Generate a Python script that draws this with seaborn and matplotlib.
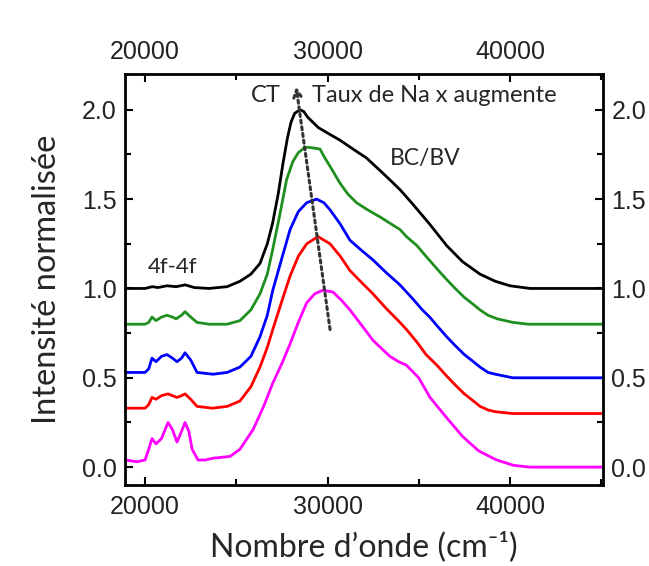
import numpy as np
import pandas as pd
import seaborn as sns
import matplotlib
matplotlib.use('Agg')
import matplotlib.pyplot as plt
from matplotlib.ticker import MultipleLocator, FormatStrFormatter

# donnees (nombre d'onde en cm-1, intensite normalisee + decalage)
black_x = [18900, 20000, 20400, 20700, 21200, 21700, 22200, 22700, 23500, 24500, 25200, 25800,
           26300, 26700, 27000, 27300, 27560, 27800, 28000, 28200, 28490, 28700, 28900, 29200,
           29500, 30000, 30680, 31400, 32140, 32880, 33500, 34000, 34690, 35600, 36530, 37400,
           38360, 39200, 40000, 41100, 45100]
black_y = [1.0, 1.0, 1.01, 1.005, 1.015, 1.01, 1.02, 1.005, 1.0, 1.01, 1.04, 1.08,
           1.14, 1.25, 1.37, 1.53, 1.70, 1.84, 1.93, 1.98, 2.0, 1.99, 1.96, 1.93,
           1.90, 1.87, 1.83, 1.78, 1.73, 1.66, 1.60, 1.55, 1.47, 1.36, 1.24, 1.15,
           1.08, 1.04, 1.015, 1.0, 1.0]

green_x = [18900, 20000, 20200, 20380, 20600, 20900, 21200, 21500, 21700, 22000, 22190, 22500,
           22850, 23500, 24500, 25200, 25800, 26300, 26700, 27000, 27400, 27760, 28100, 28400,
           28700, 28930, 29300, 29590, 29800, 30100, 30680, 31100, 31590, 32200, 32880, 33500,
           33970, 34330, 34900, 35400, 36000, 36530, 37000, 37500, 38000, 38360, 38800, 39300,
           40160, 41000, 45100]
green_y = [0.8, 0.8, 0.81, 0.84, 0.82, 0.84, 0.85, 0.84, 0.83, 0.85, 0.87, 0.84,
           0.81, 0.80, 0.80, 0.82, 0.88, 0.97, 1.08, 1.22, 1.42, 1.61, 1.71, 1.76,
           1.785, 1.79, 1.785, 1.78, 1.74, 1.69, 1.59, 1.53, 1.48, 1.44, 1.40, 1.36,
           1.33, 1.29, 1.24, 1.18, 1.11, 1.05, 1.00, 0.95, 0.91, 0.88, 0.85, 0.83,
           0.81, 0.80, 0.80]

blue_x = [18900, 20000, 20200, 20380, 20600, 20900, 21200, 21500, 21750, 22000, 22190, 22500,
          22850, 23730, 24500, 25200, 25800, 26300, 26700, 27000, 27500, 27950, 28400, 28860,
          29400, 29800, 30140, 30700, 31230, 31900, 32490, 33200, 33970, 34690, 35200, 35600,
          36100, 36530, 37000, 37500, 38000, 38360, 38800, 39200, 40160, 45100]
blue_y = [0.53, 0.53, 0.55, 0.61, 0.59, 0.62, 0.63, 0.61, 0.59, 0.61, 0.64, 0.60,
          0.53, 0.52, 0.53, 0.56, 0.62, 0.73, 0.85, 0.99, 1.17, 1.33, 1.43, 1.48,
          1.50, 1.48, 1.44, 1.36, 1.27, 1.21, 1.16, 1.09, 1.02, 0.94, 0.88, 0.84,
          0.78, 0.73, 0.68, 0.63, 0.59, 0.56, 0.53, 0.52, 0.50, 0.50]

red_x = [18900, 20000, 20200, 20380, 20600, 20900, 21260, 21500, 21750, 22000, 22190, 22500,
         22850, 23700, 24500, 25200, 25800, 26300, 26700, 27000, 27500, 27950, 28400, 28860,
         29480, 30140, 30700, 31230, 31900, 32490, 33200, 33970, 34330, 34900, 35400, 36000,
         36530, 37000, 37500, 38000, 38360, 38800, 39200, 40160, 45100]
red_y = [0.33, 0.33, 0.35, 0.39, 0.38, 0.40, 0.41, 0.40, 0.39, 0.40, 0.41, 0.38,
         0.34, 0.33, 0.34, 0.37, 0.45, 0.56, 0.67, 0.77, 0.93, 1.07, 1.18, 1.25,
         1.29, 1.25, 1.18, 1.10, 1.03, 0.97, 0.89, 0.81, 0.77, 0.70, 0.63, 0.57,
         0.51, 0.46, 0.41, 0.37, 0.34, 0.32, 0.31, 0.30, 0.30]

magenta_x = [18900, 19560, 20000, 20200, 20380, 20600, 20900, 21260, 21500, 21750, 22000, 22190,
             22400, 22580, 22900, 23300, 23730, 24660, 25200, 25920, 26500, 27000, 27500, 27950,
             28400, 28860, 29300, 29750, 30300, 30800, 31230, 31900, 32490, 33000, 33420, 33900,
             34330, 35000, 35620, 36500, 37420, 38300, 39270, 40200, 41100, 45100]
magenta_y = [0.04, 0.03, 0.04, 0.10, 0.16, 0.13, 0.16, 0.25, 0.21, 0.14, 0.20, 0.25,
             0.20, 0.10, 0.04, 0.04, 0.05, 0.06, 0.10, 0.21, 0.34, 0.47, 0.58, 0.69,
             0.81, 0.92, 0.97, 0.99, 0.98, 0.93, 0.88, 0.79, 0.71, 0.66, 0.62, 0.59,
             0.57, 0.50, 0.39, 0.28, 0.17, 0.09, 0.04, 0.01, 0.0, 0.0]

series = [('black', black_x, black_y), ('#1f8f1f', green_x, green_y), ('#0000ff', blue_x, blue_y),
          ('#ff0000', red_x, red_y), ('#ff00ff', magenta_x, magenta_y)]

# fleche pointillee (de, vers)
arrow_start = (30140, 0.77)
arrow_end = (28280, 2.13)

sns.set_style('ticks')
plt.rcParams['font.family'] = ['Liberation Sans', 'DejaVu Sans']

fig = plt.figure(figsize=(6.49, 5.66), dpi=100)
ax = fig.add_axes([0.1926, 0.1431, 0.7365, 0.7261])

for color, xs, ys in series:
    df = pd.DataFrame({'x': xs, 'y': ys})
    sns.lineplot(data=df, x='x', y='y', color=color, linewidth=2.0, sort=False, ax=ax)

ax.annotate('', xy=arrow_end, xytext=arrow_start,
            arrowprops=dict(arrowstyle='->', linestyle=(0, (1, 1.2)), lw=2.2, color='#333333',
                            mutation_scale=14, shrinkA=0, shrinkB=0))

ax.set_xlim(18900, 45100)
ax.set_ylim(-0.1, 2.2)
ax.xaxis.set_major_locator(MultipleLocator(10000))
ax.xaxis.set_minor_locator(MultipleLocator(5000))
ax.yaxis.set_major_locator(MultipleLocator(0.5))
ax.yaxis.set_minor_locator(MultipleLocator(0.25))
ax.yaxis.set_major_formatter(FormatStrFormatter('%.1f'))
ax.tick_params(which='both', direction='in', top=True, right=True,
               labeltop=True, labelright=True, width=1.5, labelsize=18, colors='black',
               labelcolor='#222222')
ax.tick_params(which='major', length=6)
ax.tick_params(which='minor', length=4)
ax.tick_params(axis='x', which='major', pad=7)
ax.tick_params(axis='y', which='major', pad=6)
for s in ax.spines.values():
    s.set_linewidth(2)
    s.set_color('black')

lab_font = ['Lato', 'DejaVu Sans']
ax.set_xlabel("Nombre d\u2019onde (cm\u207b\u00b9)", fontsize=23, family=lab_font, labelpad=9)
ax.set_ylabel('Intensit\u00e9 normalis\u00e9e', fontsize=23.5, family=lab_font, labelpad=14)

ax.text(25800, 2.08, 'CT', fontsize=17, family=lab_font, va='center', ha='left')
ax.text(29150, 2.08, 'Taux de Na x augmente', fontsize=17, family=lab_font, va='center', ha='left')
ax.text(33400, 1.73, 'BC/BV', fontsize=16.5, family=lab_font, va='center', ha='left')
ax.text(20150, 1.12, '4f-4f', fontsize=16, family=lab_font, va='center', ha='left')

fig.savefig('out.png', dpi=100)
